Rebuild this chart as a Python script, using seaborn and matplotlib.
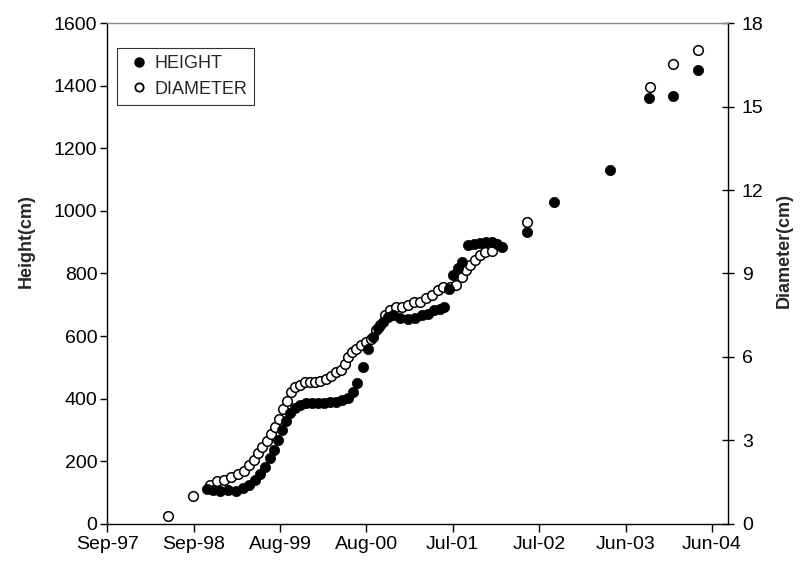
import numpy as np
import pandas as pd
import seaborn as sns
import matplotlib.pyplot as plt
import matplotlib.dates as mdates
from matplotlib.lines import Line2D

# first day of the date axis; tick every 350 days
start = pd.Timestamp('1997-09-28')
tick_step = 350
n_ticks = 8
axis_days = 2515

# days after start, height in cm
height_day = [405, 429, 458, 490, 522, 551, 575, 599, 620, 640, 660, 676, 693, 709,
              725, 741, 761, 782, 806, 830, 855, 879, 903, 927, 952, 976, 996, 1013,
              1037, 1057, 1077, 1098, 1118, 1138, 1158, 1187, 1219, 1247, 1276, 1300,
              1324, 1349, 1365, 1385, 1401, 1422, 1438, 1462, 1486, 1511, 1535, 1559,
              1580, 1600, 1701, 1810, 2037, 2195, 2292, 2394]
height_cm = [112, 109, 106, 109, 106, 115, 125, 141, 160, 182, 211, 237, 269, 301,
             330, 355, 371, 381, 387, 387, 387, 387, 390, 390, 394, 403, 422, 451,
             502, 557, 598, 627, 646, 662, 666, 659, 656, 659, 666, 672,
             682, 688, 694, 749, 794, 819, 838, 890, 893, 896, 899, 899,
             893, 886, 934, 1027, 1130, 1360, 1366, 1450]

# days after start, diameter in cm
diam_day = [247, 348, 417, 446, 474, 502, 531, 555, 575, 595, 612, 628, 648, 664,
            680, 697, 713, 729, 745, 761, 782, 802, 822, 842, 863, 887, 907, 927,
            948, 964, 976, 992, 1008, 1029, 1049, 1069, 1089, 1106, 1126, 1146,
            1170, 1195, 1219, 1243, 1268, 1292, 1316, 1341, 1361, 1389, 1413, 1438,
            1454, 1470, 1490, 1511, 1531, 1559, 1701, 2199, 2292, 2394]
diam_cm = [0.29, 1.01, 1.40, 1.55, 1.58, 1.69, 1.80, 1.91, 2.12, 2.30, 2.56, 2.77, 2.99, 3.24,
           3.49, 3.78, 4.14, 4.43, 4.72, 4.90, 5.00, 5.08, 5.11, 5.11, 5.15, 5.22, 5.33, 5.44,
           5.54, 5.76, 5.98, 6.19, 6.30, 6.44, 6.52, 6.66, 6.95, 7.16, 7.49, 7.70,
           7.78, 7.81, 7.88, 7.96, 7.99, 8.10, 8.24, 8.39, 8.50, 8.50, 8.57, 8.89,
           9.14, 9.29, 9.50, 9.65, 9.76, 9.79, 10.84, 15.70, 16.52, 17.03]

df_h = pd.DataFrame({'date': start + pd.to_timedelta(height_day, unit='D'), 'height': height_cm})
df_d = pd.DataFrame({'date': start + pd.to_timedelta(diam_day, unit='D'), 'diameter': diam_cm})

sns.set_theme(style='white')
plt.rcParams['font.family'] = ['Liberation Sans', 'DejaVu Sans']

fig, ax = plt.subplots(figsize=(8, 5.65), dpi=100)
fig.subplots_adjust(left=0.134, right=0.91, bottom=0.073, top=0.959)
ax2 = ax.twinx()

# diameter underneath, height drawn on top
sns.scatterplot(data=df_d, x='date', y='diameter', ax=ax2, s=48, color='white',
                edgecolor='black', linewidth=1.1, zorder=2)
sns.scatterplot(data=df_h, x='date', y='height', ax=ax, s=55, color='black',
                edgecolor='black', linewidth=0.5, zorder=3)
ax.set_zorder(ax2.get_zorder() + 1)
ax.patch.set_visible(False)

ticks = [start + pd.Timedelta(days=tick_step * k) for k in range(n_ticks)]
ax.set_xlim(start, start + pd.Timedelta(days=axis_days))
ax.set_xticks(ticks)
ax.xaxis.set_major_formatter(mdates.DateFormatter('%b-%y'))
ax.set_ylim(0, 1600)
ax.set_yticks(range(0, 1601, 200))
ax2.set_ylim(0, 18)
ax2.set_yticks(range(0, 19, 3))

ax.set_xlabel('')
ax.set_ylabel('Height(cm)', fontsize=13, fontweight='bold', labelpad=14)
ax2.set_ylabel('Diameter(cm)', fontsize=13, fontweight='bold', labelpad=9)
ax.yaxis.label.set_y(0.565)
ax2.yaxis.label.set_y(0.545)

for a in (ax, ax2):
    for sp in a.spines.values():
        sp.set_color('black')
        sp.set_linewidth(1.0)
ax.spines['right'].set_visible(False)
ax.spines['top'].set_color('#8c8c8c')
ax2.spines['left'].set_visible(False)
ax2.spines['bottom'].set_visible(False)
ax2.spines['top'].set_visible(False)

ax.tick_params(axis='x', direction='out', length=6, width=1, colors='black',
               labelsize=14, pad=3, bottom=True)
ax.tick_params(axis='y', direction='out', length=5, width=1, colors='black',
               labelsize=14, pad=2, left=True)
ax2.tick_params(axis='y', direction='inout', length=8, width=1, colors='black',
                labelsize=14, pad=6, right=True)

handles = [
    Line2D([], [], marker='o', linestyle='', color='black', markersize=6.5,
           label='HEIGHT'),
    Line2D([], [], marker='o', linestyle='', markerfacecolor='white',
           markeredgecolor='black', markeredgewidth=1.3, markersize=6,
           label='DIAMETER'),
]
leg = ax.legend(handles=handles, loc='upper left', bbox_to_anchor=(0.016, 0.95),
                borderaxespad=0, fontsize=13, frameon=True, fancybox=False,
                handletextpad=0.05, handlelength=1.6, borderpad=0.4,
                labelspacing=0.45)
leg.get_frame().set_edgecolor('black')
leg.get_frame().set_linewidth(0.8)

fig.savefig('out.png', dpi=100, facecolor='white')
